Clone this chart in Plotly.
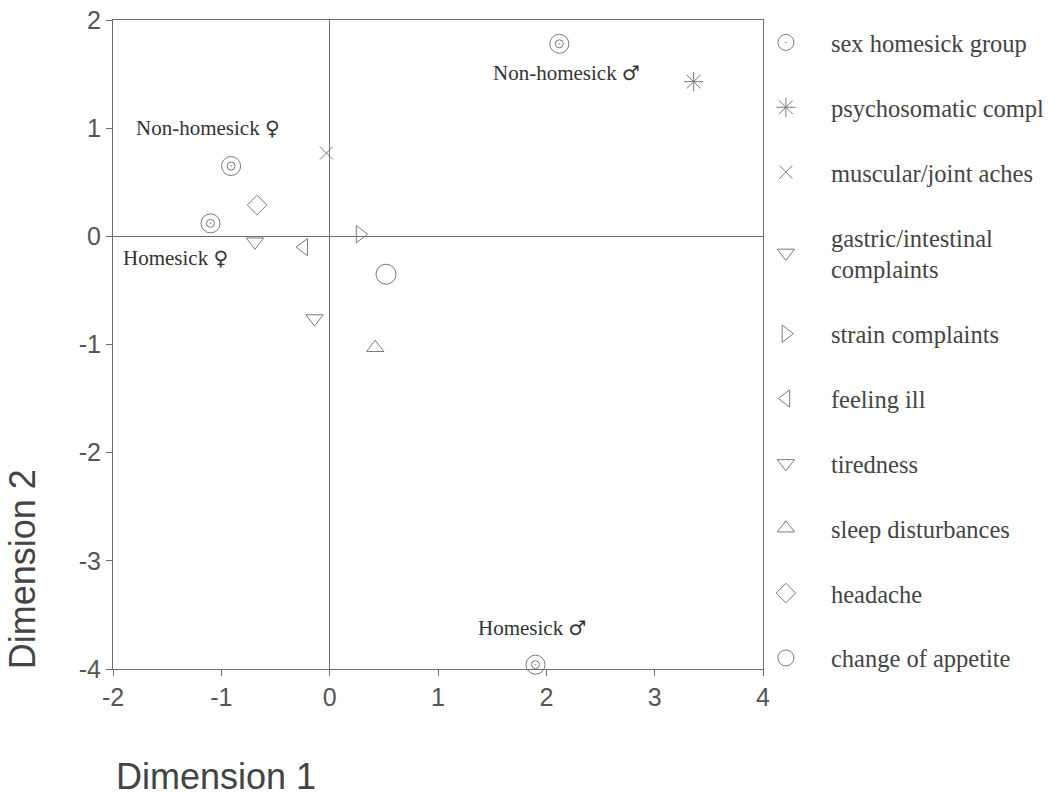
import plotly.graph_objects as go

# Data
group_names = ["Non-homesick", "Non-homesick", "Homesick", "Homesick"]
group_sex = ["♂", "♀", "♀", "♂"]
group_x = [2.12, -0.91, -1.10, 1.90]
group_y = [1.78, 0.65, 0.12, -3.96]

symptom_names = ["psychosomatic compl", "muscular/joint aches", "gastric/intestinal<br>complaints",
                 "strain complaints", "feeling ill", "tiredness", "sleep disturbances",
                 "headache", "change of appetite"]
symptom_x = [3.36, -0.03, -0.69, 0.28, -0.24, -0.14, 0.42, -0.67, 0.52]
symptom_y = [1.43, 0.77, -0.05, 0.02, -0.10, -0.76, -1.03, 0.29, -0.35]
symptom_symbols = ["asterisk-open", "x-thin-open", "triangle-down-open", "triangle-right-open",
                   "triangle-left-open", "triangle-down-open", "triangle-up-open",
                   "diamond-open", "circle-open"]
symptom_sizes = [16, 13, 15, 15, 15, 15, 15, 15, 20]

label_x = [2.19, -1.12, -1.42, 1.87]
label_y = [1.51, 1.00, -0.20, -3.62]

x_ticks = [-2, -1, 0, 1, 2, 3, 4]
x_tick_text = ["-2", "-1", "0", "1", "2", "3", "4"]
y_ticks = [-4, -3, -2, -1, 0, 1, 2]
y_tick_text = ["-4", "-3", "-2", "-1", "0", "1", "2"]

mark_color = "#7a7a7a"
axis_color = "#6e6e6e"

fig = go.Figure()

fig.add_trace(go.Scatter(
    x=group_x, y=group_y, mode="markers", name="sex homesick group",
    legendgroup="g0", cliponaxis=False,
    marker=dict(symbol="circle-open-dot", size=19, color=mark_color, line=dict(width=1, color=mark_color)),
    hoverinfo="skip"))

for i, (n, x, y, s, sz) in enumerate(zip(symptom_names, symptom_x, symptom_y, symptom_symbols, symptom_sizes)):
    fig.add_trace(go.Scatter(
        x=[x], y=[y], mode="markers", name=n, legendgroup=f"s{i}", cliponaxis=False,
        marker=dict(symbol=s, size=sz, color=mark_color, line=dict(width=1, color=mark_color)),
        hoverinfo="skip"))

# inner ring of the double circles
fig.add_trace(go.Scatter(
    x=group_x, y=group_y, mode="markers", showlegend=False, legendgroup="g0", cliponaxis=False,
    marker=dict(symbol="circle-open", size=8, color=mark_color, line=dict(width=1, color=mark_color)),
    hoverinfo="skip"))

for nm, sx, x, y in zip(group_names, group_sex, label_x, label_y):
    fig.add_annotation(x=x, y=y, text=f"{nm} <span style='font-family:DejaVu Sans;font-size:20px'>{sx}</span>",
                       showarrow=False,
                       font=dict(family="Liberation Serif, DejaVu Serif", size=21, color="#333333"))

fig.add_annotation(xref="paper", yref="paper", x=0.002, y=-0.165, xanchor="left", yanchor="middle",
                   text="Dimension 1", showarrow=False,
                   font=dict(family="Liberation Sans, Arial", size=36, color="#444444"))
fig.add_annotation(xref="paper", yref="paper", x=-0.139, y=0.153, xanchor="center", yanchor="middle",
                   text="Dimension 2", showarrow=False, textangle=-90,
                   font=dict(family="Liberation Sans, Arial", size=36, color="#444444"))

axis_common = dict(
    ticks="outside", ticklen=6, tickcolor=axis_color, tickwidth=1,
    showline=True, linecolor=axis_color, linewidth=1, mirror=True,
    showgrid=False, zeroline=True, zerolinecolor=axis_color, zerolinewidth=1,
    tickfont=dict(family="Liberation Sans, Arial", size=25, color="#555555"),
    automargin=False,
)

fig.update_xaxes(range=[-2, 4], tickvals=x_ticks, ticktext=x_tick_text, **axis_common)
fig.update_yaxes(range=[-4, 2], tickvals=y_ticks, ticktext=y_tick_text, **axis_common)

fig.update_layout(
    width=1059, height=797,
    margin=dict(l=113, r=296, t=20, b=128, autoexpand=False),
    plot_bgcolor="white", paper_bgcolor="white",
    legend=dict(x=0.966, y=1.0, xanchor="left", yanchor="top",
                font=dict(family="Liberation Serif, DejaVu Serif", size=24.5, color="#444444"),
                tracegroupgap=30, itemwidth=80, bgcolor="rgba(0,0,0,0)", maxheight=790),
)

fig.write_html("out.html", config={"displayModeBar": False},
               post_script="document.body.style.margin='0';document.body.style.overflow='hidden';")
